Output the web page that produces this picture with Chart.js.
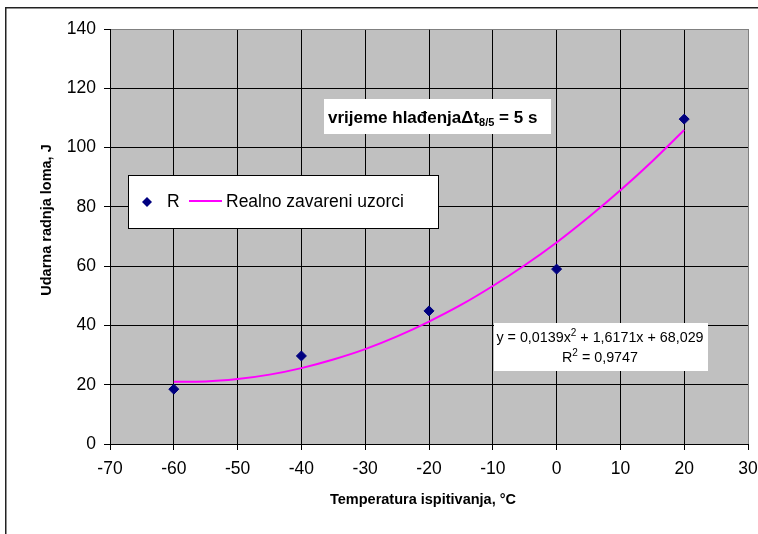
<!DOCTYPE html>
<html><head><meta charset="utf-8">
<script src="https://cdn.jsdelivr.net/npm/chart.js@4/dist/chart.umd.min.js"></script>
<style>html,body{margin:0;padding:0;background:#fff}#wrap{width:758px;height:534px}</style>
</head><body><div id="wrap"><canvas id="c" width="758" height="534"></canvas></div>
<script>
const tempX = [-60, -40, -20, 0, 20];
const energyR = [18.5, 29.7, 44.9, 59.0, 109.6];
const trendX = [-60,-55,-50,-45,-40,-35,-30,-25,-20,-15,-10,-5,0,5,10,15,20];
const trendY = [21.0,21.1,21.9,23.4,25.6,28.5,32.0,36.3,41.3,46.9,53.3,60.3,68.0,76.5,85.6,95.4,105.9];
const xTicks = [-70,-60,-50,-40,-30,-20,-10,0,10,20,30];
const yTicks = [0,20,40,60,80,100,120,140];
const seriesName = 'R';
const trendName = 'Realno zavareni uzorci';
const xTitle = 'Temperatura ispitivanja, °C';
const yTitle = 'Udarna radnja loma, J';
const eqLine1 = ['y = 0,0139x', '2', ' + 1,6171x + 68,029'];
const eqLine2 = ['R', '2', ' = 0,9747'];

const FONT = '"Liberation Sans", Arial, sans-serif';

const deco = {
  id: 'deco',
  beforeDraw(chart) {
    const ctx = chart.ctx, a = chart.chartArea;
    ctx.save();
    ctx.fillStyle = '#fff';
    ctx.fillRect(0, 0, chart.width, chart.height);
    ctx.strokeStyle = '#222';
    ctx.lineWidth = 1.5;
    ctx.strokeRect(5.75, 7.75, 900, 700);
    ctx.fillStyle = '#C0C0C0';
    ctx.fillRect(a.left, a.top, a.right - a.left, a.bottom - a.top);
    ctx.restore();
  },
  afterDraw(chart) {
    const ctx = chart.ctx, a = chart.chartArea;
    ctx.save();
    // axis titles
    ctx.fillStyle = '#000';
    ctx.font = 'bold 14.5px ' + FONT;
    ctx.textAlign = 'center';
    ctx.textBaseline = 'middle';
    ctx.fillText(xTitle, 423, 500);
    ctx.save();
    ctx.translate(47, 220);
    ctx.rotate(-Math.PI / 2);
    ctx.fillText(yTitle, 0, 0);
    ctx.restore();
    ctx.textAlign = 'left';

    // title box
    ctx.fillStyle = '#fff';
    ctx.fillRect(324, 99, 227, 35);
    ctx.fillStyle = '#000';
    ctx.textBaseline = 'alphabetic';
    let x = 328, y = 123;
    ctx.font = 'bold 17px ' + FONT;
    const p1 = 'vrijeme hlađenja';
    ctx.fillText(p1, x, y); x += ctx.measureText(p1).width;
    ctx.fillText('Δt', x, y); x += ctx.measureText('Δt').width;
    ctx.font = 'bold 11px ' + FONT;
    ctx.fillText('8/5', x, y + 3); x += ctx.measureText('8/5').width;
    ctx.font = 'bold 17px ' + FONT;
    ctx.fillText(' = 5 s', x, y);

    // legend box
    ctx.fillStyle = '#fff';
    ctx.fillRect(128, 175, 310, 53);
    ctx.strokeStyle = '#000';
    ctx.lineWidth = 1;
    ctx.strokeRect(128.5, 175.5, 310, 53);
    ctx.fillStyle = '#000080';
    ctx.beginPath();
    ctx.moveTo(147, 197); ctx.lineTo(152, 202); ctx.lineTo(147, 207); ctx.lineTo(142, 202); ctx.closePath();
    ctx.fill();
    ctx.fillStyle = '#000';
    ctx.font = '17.5px ' + FONT;
    ctx.textBaseline = 'middle';
    ctx.fillText(seriesName, 167, 202);
    ctx.strokeStyle = '#FF00FF';
    ctx.lineWidth = 2;
    ctx.beginPath(); ctx.moveTo(189, 201); ctx.lineTo(222, 201); ctx.stroke();
    ctx.fillText(trendName, 226, 202);

    // equation box
    ctx.fillStyle = '#fff';
    ctx.fillRect(494, 323, 214, 48);
    ctx.fillStyle = '#000';
    ctx.textBaseline = 'alphabetic';
    function drawSup(parts, cx, by) {
      ctx.font = '14.3px ' + FONT;
      const w0 = ctx.measureText(parts[0]).width;
      const w2 = ctx.measureText(parts[2]).width;
      ctx.font = '10px ' + FONT;
      const w1 = ctx.measureText(parts[1]).width;
      let sx = cx - (w0 + w1 + w2) / 2;
      ctx.font = '14.3px ' + FONT;
      ctx.fillText(parts[0], sx, by); sx += w0;
      ctx.font = '10px ' + FONT;
      ctx.fillText(parts[1], sx, by - 6); sx += w1;
      ctx.font = '14.3px ' + FONT;
      ctx.fillText(parts[2], sx, by);
    }
    drawSup(eqLine1, 600, 342);
    drawSup(eqLine2, 600, 362);
    ctx.restore();
  }
};

new Chart(document.getElementById('c'), {
  type: 'scatter',
  data: {
    datasets: [
      {
        label: trendName,
        data: trendX.map((v, i) => ({x: v, y: trendY[i]})),
        showLine: true,
        borderColor: '#FF00FF',
        borderWidth: 2,
        pointRadius: 0,
        tension: 0.4,
        cubicInterpolationMode: 'monotone',
        order: 2
      },
      {
        label: seriesName,
        data: tempX.map((v, i) => ({x: v, y: energyR[i]})),
        pointStyle: 'rectRot',
        pointRadius: 5,
        pointBackgroundColor: '#000080',
        pointBorderColor: '#000080',
        pointBorderWidth: 1,
        showLine: false,
        order: 1
      }
    ]
  },
  options: {
    responsive: false,
    animation: false,
    devicePixelRatio: 1,
    layout: {padding: {top: 29, right: 10, left: 0, bottom: 0}},
    plugins: {legend: {display: false}, tooltip: {enabled: false}},
    scales: {
      x: {
        type: 'linear', min: -70, max: 30,
        afterBuildTicks: s => { s.ticks = xTicks.map(v => ({value: v})); },
        afterFit: s => { s.height = 90; s.paddingLeft = 0; s.paddingRight = 0; },
        grid: {
          color: c => (c.tick && c.tick.value === 30) ? '#808080' : '#000',
          tickColor: '#000', tickLength: 6, lineWidth: 1, drawTicks: true
        },
        border: {color: '#000', width: 1},
        ticks: {color: '#000', font: {family: FONT, size: 17.5}, padding: 9, maxRotation: 0},
        title: {display: false}
      },
      y: {
        type: 'linear', min: 0, max: 140,
        afterBuildTicks: s => { s.ticks = yTicks.map(v => ({value: v})); },
        afterFit: s => { s.width = 110; s.paddingTop = 0; s.paddingBottom = 0; },
        grid: {
          color: c => (c.tick && c.tick.value === 140) ? '#808080' : '#000',
          tickColor: '#000', tickLength: 6, lineWidth: 1
        },
        border: {color: '#000', width: 1},
        ticks: {color: '#000', font: {family: FONT, size: 17.5}, padding: 8},
        title: {display: false}
      }
    }
  },
  plugins: [deco]
});
</script>
</body></html>
